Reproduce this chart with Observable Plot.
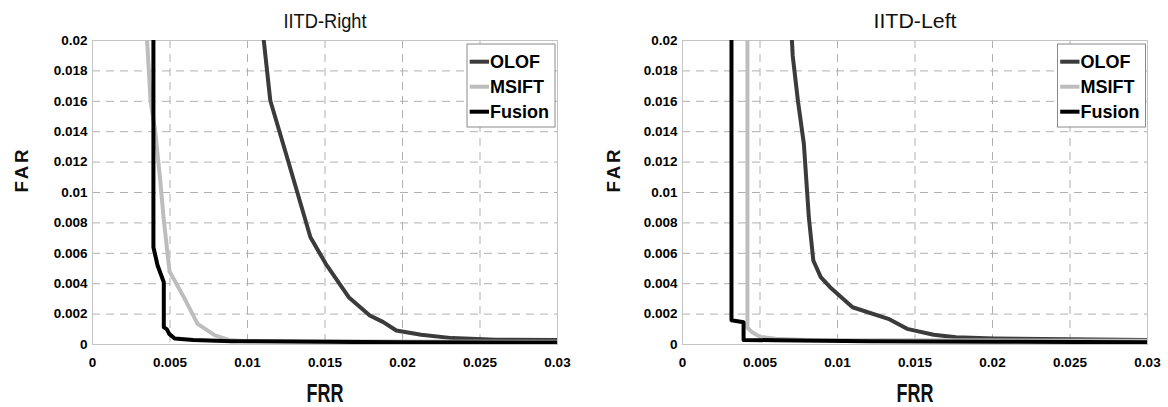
<!DOCTYPE html>
<html>
<head>
<meta charset="utf-8">
<script src="https://cdn.jsdelivr.net/npm/d3@7"></script>
<script src="https://cdn.jsdelivr.net/npm/@observablehq/plot@0.6"></script>
<style>
  html, body { margin: 0; padding: 0; background: #fff; }
  #wrap { display: flex; width: 1168px; height: 407px; overflow: hidden; }
</style>
</head>
<body>
<div id="wrap"></div>
<script>
// ---- categories / styling keys ----
const seriesNames = ["OLOF", "MSIFT", "Fusion"];
const seriesColors = ["#3b3b3b", "#bdbdbd", "#000000"];
const panelTitles = ["IITD-Right", "IITD-Left"];
const xLabel = "FRR";
const yLabel = "FAR";

// ---- tick values and labels ----
const xTicks = [0, 0.005, 0.01, 0.015, 0.02, 0.025, 0.03];
const xTickLabels = ["0", "0.005", "0.01", "0.015", "0.02", "0.025", "0.03"];
const yTicks = [0, 0.002, 0.004, 0.006, 0.008, 0.01, 0.012, 0.014, 0.016, 0.018, 0.02];
const yTickLabels = ["0", "0.002", "0.004", "0.006", "0.008", "0.01", "0.012", "0.014", "0.016", "0.018", "0.02"];

// ---- IITD-Right series (FRR = x, FAR = y) ----
const rightOlofFRR = [0.01105, 0.01147, 0.0125, 0.01406, 0.01505, 0.01653, 0.01789, 0.01876, 0.0196, 0.0212, 0.0232, 0.026, 0.03];
const rightOlofFAR = [0.02, 0.01605, 0.0125, 0.00706, 0.00531, 0.00311, 0.00191, 0.00147, 0.00092, 0.00064, 0.00042, 0.00031, 0.0003];
const rightMsiftFRR = [0.00352, 0.00375, 0.00405, 0.00435, 0.0046, 0.00497, 0.0059, 0.00678, 0.0079, 0.0088, 0.010, 0.03];
const rightMsiftFAR = [0.02, 0.016, 0.014, 0.011, 0.0082, 0.0048, 0.0031, 0.00136, 0.0006, 0.0003, 0.00022, 0.00018];
const rightFusionFRR = [0.00393, 0.00393, 0.0042, 0.0046, 0.0046, 0.0048, 0.00495, 0.0053, 0.0065, 0.009, 0.015, 0.02, 0.03];
const rightFusionFAR = [0.02, 0.0064, 0.0052, 0.0041, 0.00114, 0.001, 0.0007, 0.0004, 0.0003, 0.00022, 0.00018, 0.00014, 0.00013];

// ---- IITD-Left series ----
const leftOlofFRR = [0.00706, 0.00711, 0.00745, 0.00783, 0.00815, 0.00844, 0.00892, 0.00952, 0.01097, 0.01328, 0.01449, 0.0162, 0.01765, 0.0201, 0.025, 0.03];
const leftOlofFAR = [0.02, 0.019, 0.016, 0.0132, 0.00838, 0.00553, 0.00443, 0.00377, 0.00245, 0.00169, 0.00103, 0.00064, 0.00048, 0.0004, 0.00035, 0.0003];
const leftMsiftFRR = [0.00419, 0.00419, 0.0045, 0.005, 0.006, 0.008, 0.03];
const leftMsiftFAR = [0.02, 0.0011, 0.0008, 0.0005, 0.00038, 0.0003, 0.00025];
const leftFusionFRR = [0.00316, 0.00316, 0.00394, 0.00394, 0.006, 0.012, 0.02, 0.03];
const leftFusionFAR = [0.02, 0.0016, 0.00147, 0.0003, 0.00028, 0.00022, 0.00018, 0.00015];

function rows(xs, ys, name) { return xs.map((x, i) => ({ frr: x, far: ys[i], series: name })); }

const panels = [
  {
    title: panelTitles[0],
    data: [
      ...rows(rightOlofFRR, rightOlofFAR, seriesNames[0]),
      ...rows(rightMsiftFRR, rightMsiftFAR, seriesNames[1]),
      ...rows(rightFusionFRR, rightFusionFAR, seriesNames[2])
    ],
    marginLeft: 92, marginRight: 27, farDx: -70, legendRight: 2
  },
  {
    title: panelTitles[1],
    data: [
      ...rows(leftOlofFRR, leftOlofFAR, seriesNames[0]),
      ...rows(leftMsiftFRR, leftMsiftFAR, seriesNames[1]),
      ...rows(leftFusionFRR, leftFusionFAR, seriesNames[2])
    ],
    marginLeft: 98, marginRight: 21, farDx: -68, legendRight: 1.5
  }
];

const fontFamily = "'Liberation Sans', Arial, Helvetica, sans-serif";
const fmtX = d => xTickLabels[xTicks.indexOf(d)];
const fmtY = d => yTickLabels[yTicks.indexOf(d)];

for (const p of panels) {
  const chart = Plot.plot({
    width: 584,
    height: 407,
    marginTop: 40,
    marginBottom: 63,
    marginLeft: p.marginLeft,
    marginRight: p.marginRight,
    x: { domain: [0, 0.03] },
    y: { domain: [0, 0.02] },
    color: { domain: seriesNames, range: seriesColors },
    style: { fontFamily, fontSize: "13.5px", color: "#000", background: "#fff", overflow: "visible" },
    marks: [
      Plot.gridX(xTicks.slice(1, -1), { stroke: "#b0b0b0", strokeOpacity: 1, strokeDasharray: "8,6" }),
      Plot.gridY(yTicks.slice(1, -1), { stroke: "#b0b0b0", strokeOpacity: 1, strokeDasharray: "8,6" }),
      Plot.frame({ stroke: "#c4c4c4" }),
      Plot.axisX(xTicks, { tickSize: 0, tickPadding: 13, tickFormat: fmtX, label: null }),
      Plot.axisY(yTicks, { tickSize: 0, tickPadding: 5, tickFormat: fmtY, label: null }),
      Plot.line(p.data, { x: "frr", y: "far", z: "series", stroke: "series", strokeWidth: 4, clip: true }),
      Plot.text([p.title], { frameAnchor: "top", lineAnchor: "bottom", dy: -12.7, fontSize: 20.4, fill: "#111", className: "ptitle" }),
      Plot.text([xLabel], { frameAnchor: "bottom", lineAnchor: "bottom", dy: 57, fontSize: 25.5, fontWeight: "bold", fill: "#111", className: "xlab" }),
      Plot.text([yLabel], { frameAnchor: "left", lineAnchor: "middle", dx: p.farDx, rotate: -90, fontSize: 18.6, fontWeight: "bold", fill: "#111", className: "ylab" })
    ]
  });

  const svg = d3.select(chart);
  svg.selectAll('g[aria-label$="tick label"]').style("font-weight", "bold").style("font-size", "13.5px");
  svg.selectAll('g[aria-label$="tick label"] text').style("font-weight", "bold");
  svg.select("g.ptitle text").attr("textLength", 83).attr("lengthAdjust", "spacingAndGlyphs");
  svg.select("g.xlab text").attr("textLength", 37).attr("lengthAdjust", "spacingAndGlyphs");
  svg.select("g.ylab text").attr("textLength", 43).attr("lengthAdjust", "spacing");

  // legend, positioned from the plot's own scale ranges
  const [fx0, fx1] = chart.scale("x").range;
  const [fyb, fyt] = chart.scale("y").range;
  const boxW = 88, boxH = 83;
  const bx = fx1 - p.legendRight - boxW, by = fyt + 4;
  const lg = svg.append("g").attr("class", "legend");
  lg.append("rect").attr("x", bx).attr("y", by).attr("width", boxW).attr("height", boxH)
    .attr("fill", "#fff").attr("stroke", "#8a8a8a").attr("stroke-width", 1);
  seriesNames.forEach((name, i) => {
    const cy = by + 17.7 + i * 25;
    lg.append("line").attr("x1", bx + 2.7).attr("x2", bx + 22).attr("y1", cy).attr("y2", cy)
      .attr("stroke", seriesColors[i]).attr("stroke-width", 4);
    lg.append("text").attr("x", bx + 23).attr("y", cy).attr("dy", "0.36em")
      .style("font-family", fontFamily).style("font-size", "18px").style("font-weight", "bold")
      .style("text-anchor", "start").attr("fill", "#000").text(name);
  });

  document.getElementById("wrap").appendChild(chart);
}
</script>
</body>
</html>
